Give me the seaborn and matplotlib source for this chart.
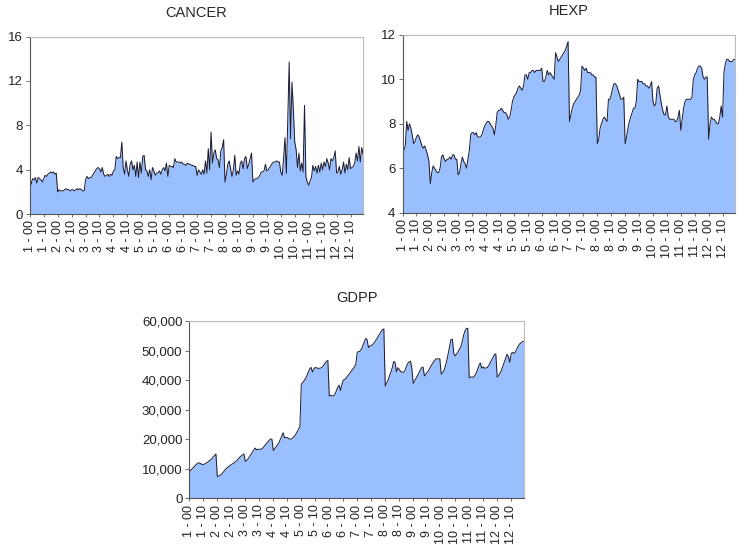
import numpy as np
import pandas as pd
import matplotlib
matplotlib.use("Agg")
import matplotlib.pyplot as plt
import seaborn as sns

sns.set_theme(style="white")
plt.rcParams["font.family"] = ["Liberation Sans", "DejaVu Sans"]

FILL = "#99BFFF"
LINE = "#1a1a2e"

# 12 cross-sections x 20 years (00..19)
cancer = [
    [3.3, 2.7, 3.2, 3.1, 3.3, 2.8, 3.3, 3.2, 3.1, 2.9, 3.2, 3.5, 3.4, 3.6, 3.7, 3.8, 3.7, 3.8, 3.6, 3.7],
    [2.0, 2.2, 2.1, 2.1, 2.1, 2.2, 2.3, 2.2, 2.2, 2.1, 2.2, 2.2, 2.1, 2.2, 2.3, 2.2, 2.3, 2.2, 2.1, 2.1],
    [3.1, 3.4, 3.2, 3.3, 3.3, 3.5, 3.7, 3.9, 4.1, 4.2, 4.1, 3.8, 4.2, 3.6, 3.4, 3.5, 3.6, 3.4, 3.6, 3.5],
    [3.9, 4.0, 5.2, 5.0, 5.1, 5.1, 6.5, 4.2, 3.6, 4.8, 4.0, 3.4, 4.5, 4.8, 4.0, 4.4, 3.4, 4.7, 3.3, 4.7],
    [3.7, 5.2, 5.3, 4.0, 3.9, 3.4, 4.0, 3.1, 4.2, 3.9, 3.5, 3.7, 3.7, 3.9, 3.6, 4.0, 4.2, 3.9, 4.6, 3.4],
    [4.4, 4.3, 4.3, 4.2, 5.0, 4.7, 4.7, 4.7, 4.6, 4.7, 4.5, 4.5, 4.4, 4.6, 4.5, 4.5, 4.4, 4.4, 4.3, 4.3],
    [3.5, 4.0, 3.8, 3.6, 4.0, 3.6, 4.8, 3.7, 5.9, 4.0, 7.4, 4.6, 5.5, 5.8, 5.0, 4.9, 4.2, 5.7, 6.0, 6.7],
    [2.9, 3.6, 4.5, 4.8, 4.1, 3.4, 4.0, 5.3, 3.5, 3.9, 3.6, 4.6, 4.8, 4.1, 5.0, 5.2, 4.1, 4.5, 5.0, 5.5],
    [2.9, 3.1, 3.2, 3.2, 3.3, 3.5, 3.8, 3.8, 3.9, 4.5, 3.9, 4.0, 4.2, 4.4, 4.6, 4.7, 4.7, 4.8, 4.7, 4.7],
    [3.8, 3.5, 5.0, 6.9, 3.7, 8.5, 13.7, 6.8, 11.9, 9.5, 6.5, 5.8, 4.2, 5.5, 3.9, 4.6, 3.8, 9.8, 3.4, 2.9],
    [2.6, 3.0, 3.3, 4.4, 3.9, 4.3, 3.7, 4.4, 3.8, 4.6, 4.0, 4.7, 4.3, 5.0, 4.6, 4.0, 5.0, 4.8, 5.1, 5.7],
    [3.7, 3.8, 4.3, 3.6, 4.0, 4.7, 3.7, 4.5, 4.0, 5.1, 4.1, 4.2, 4.3, 4.6, 5.5, 4.8, 6.1, 4.7, 6.0, 5.4],
]

hexp = [
    [6.8, 6.8, 7.0, 8.1, 7.7, 8.0, 7.8, 7.5, 7.1, 7.2, 7.4, 7.5, 7.4, 7.2, 7.0, 6.9, 7.0, 6.8, 6.6, 6.3],
    [5.3, 5.8, 6.1, 6.0, 5.9, 5.8, 5.8, 6.0, 6.5, 6.6, 6.4, 6.3, 6.4, 6.4, 6.5, 6.4, 6.6, 6.6, 6.4, 6.4],
    [5.7, 5.8, 6.2, 6.5, 6.3, 6.2, 6.0, 6.4, 6.8, 7.5, 7.6, 7.6, 7.5, 7.6, 7.4, 7.4, 7.4, 7.5, 7.7, 7.9],
    [8.0, 8.1, 8.1, 8.0, 7.9, 7.8, 7.5, 7.9, 8.5, 8.6, 8.6, 8.7, 8.6, 8.5, 8.5, 8.4, 8.2, 8.3, 8.6, 9.0],
    [9.2, 9.3, 9.4, 9.6, 9.7, 9.6, 9.5, 9.7, 10.2, 10.2, 10.0, 10.3, 10.3, 10.4, 10.4, 10.3, 10.4, 10.4, 10.4, 10.4],
    [10.5, 9.9, 9.9, 10.1, 10.4, 10.2, 10.3, 10.2, 10.1, 10.0, 11.2, 11.0, 10.8, 10.9, 11.0, 11.1, 11.2, 11.3, 11.5, 11.7],
    [8.1, 8.4, 8.7, 8.9, 9.0, 9.1, 9.2, 9.3, 9.5, 10.6, 10.5, 10.4, 10.5, 10.3, 10.3, 10.3, 10.2, 10.2, 10.1, 10.1],
    [7.1, 7.3, 7.8, 8.0, 8.2, 8.3, 8.2, 8.1, 9.1, 9.1, 9.3, 9.6, 9.8, 9.8, 9.7, 9.5, 9.3, 9.1, 9.1, 9.2],
    [7.1, 7.4, 7.8, 8.1, 8.3, 8.5, 8.7, 8.7, 9.0, 10.0, 9.9, 9.9, 9.9, 9.8, 9.8, 9.7, 9.7, 9.6, 9.7, 9.9],
    [9.0, 8.8, 8.9, 9.6, 9.7, 9.3, 8.9, 8.6, 8.4, 8.4, 8.8, 8.3, 8.2, 8.2, 8.2, 8.2, 8.1, 8.1, 8.3, 8.6],
    [7.7, 8.2, 8.7, 9.0, 9.1, 9.1, 9.1, 9.1, 9.2, 10.0, 10.2, 10.3, 10.5, 10.6, 10.6, 10.5, 10.1, 10.0, 10.1, 10.1],
    [7.3, 8.0, 8.3, 8.2, 8.2, 8.1, 8.0, 8.0, 8.3, 8.8, 8.3, 10.3, 10.7, 10.9, 10.9, 10.8, 10.8, 10.8, 10.9, 10.9],
]

gdpp = [
    [9000, 9500, 10000, 10500, 11000, 11500, 11900, 12000, 11800, 11400, 11500, 11600, 11900, 12200, 12600, 13000, 13400, 14000, 14500, 15000],
    [7400, 7500, 7800, 8200, 8700, 9300, 9900, 10300, 10700, 11100, 11400, 11700, 12000, 12400, 12800, 13300, 13900, 14300, 14700, 15000],
    [12500, 12800, 13400, 14100, 14800, 15600, 16300, 17000, 16400, 16600, 16600, 16600, 16800, 17300, 17900, 18500, 19000, 19600, 20100, 20000],
    [16200, 16800, 17400, 18100, 18900, 19900, 21000, 22200, 20500, 20500, 20600, 20200, 20000, 20100, 20500, 21000, 21600, 22500, 23300, 24300],
    [38600, 39200, 39800, 40500, 41500, 42700, 43800, 44300, 42700, 43800, 44300, 44100, 44000, 44000, 44100, 44400, 45000, 45700, 46400, 46600],
    [34600, 34900, 34700, 34600, 35200, 36300, 37500, 38300, 36500, 38500, 40000, 40200, 40700, 41300, 41900, 42500, 43200, 43900, 44500, 45500],
    [49500, 49600, 49800, 50500, 51700, 53000, 54100, 53700, 51000, 51500, 51700, 52000, 52600, 53300, 54000, 54800, 55600, 56400, 57100, 57300],
    [38000, 39000, 40000, 41300, 42700, 44200, 46300, 46000, 42800, 44200, 43600, 42900, 42700, 42600, 43200, 44500, 45600, 46100, 46400, 44000],
    [38900, 39700, 40600, 41500, 42400, 43300, 44200, 44400, 41400, 42000, 42600, 43200, 44200, 45000, 45800, 46500, 47100, 47200, 47200, 47200],
    [42000, 42500, 43300, 44800, 46700, 49000, 51500, 53800, 53800, 49000, 48200, 48800, 49600, 50400, 51300, 53000, 55200, 56700, 57500, 57500],
    [40800, 41000, 41100, 40900, 41500, 42400, 43600, 45000, 45800, 44000, 44500, 44000, 44100, 44300, 45000, 45900, 46800, 47700, 48600, 48900],
    [41000, 41500, 42300, 43300, 44600, 46000, 47400, 48700, 48000, 46000, 49000, 49400, 49000, 49500, 50500, 51500, 52200, 52600, 53000, 53200],
]

n_years = 20
n_id = 12
obs = np.arange(n_id * n_years)
labels = [f"{i} - {y:02d}" for i in range(1, n_id + 1) for y in range(n_years)]

df = pd.DataFrame({
    "obs": obs,
    "CANCER": np.concatenate(cancer),
    "HEXP": np.concatenate(hexp),
    "GDPP": np.concatenate(gdpp),
})

tick_pos = obs[::10]
tick_lab = labels[::10]

fig = plt.figure(figsize=(7.44, 5.45), dpi=100)
panels = [
    ("CANCER", [0.040, 0.607, 0.448, 0.326], (0, 16), [0, 4, 8, 12, 16], "{:.0f}"),
    ("HEXP",   [0.541, 0.610, 0.447, 0.326], (4, 12), [4, 6, 8, 10, 12], "{:.0f}"),
    ("GDPP",   [0.2545, 0.0857, 0.4495, 0.3253], (0, 60000), [0, 10000, 20000, 30000, 40000, 50000, 60000], "{:,.0f}"),
]

for name, rect, ylim, yticks, fmt in panels:
    ax = fig.add_axes(rect)
    ax.fill_between(df["obs"], df[name], ylim[0], color=FILL, linewidth=0)
    sns.lineplot(data=df, x="obs", y=name, ax=ax, color=LINE, linewidth=0.7)
    ax.set_xlim(0, obs[-1])
    ax.set_ylim(*ylim)
    ax.set_xticks(tick_pos)
    ax.set_xticklabels(tick_lab, rotation=90, fontsize=9)
    ax.set_yticks(yticks)
    ax.set_yticklabels([fmt.format(v) for v in yticks], fontsize=9.5)
    ax.set_xlabel("")
    ax.set_ylabel("")
    ax.set_title(name, fontsize=10.5, pad=14)
    ax.tick_params(axis="both", direction="out", bottom=True, left=True,
                   length=3, width=0.6, color="#555555", pad=2, labelcolor="#222222")
    ax.tick_params(axis="x", length=2.5)
    for s in ["top", "right"]:
        ax.spines[s].set_color("#bbbbbb")
        ax.spines[s].set_linewidth(0.8)
    for s in ["left", "bottom"]:
        ax.spines[s].set_color("#555555")
        ax.spines[s].set_linewidth(0.8)

fig.savefig("out.png", dpi=100)
